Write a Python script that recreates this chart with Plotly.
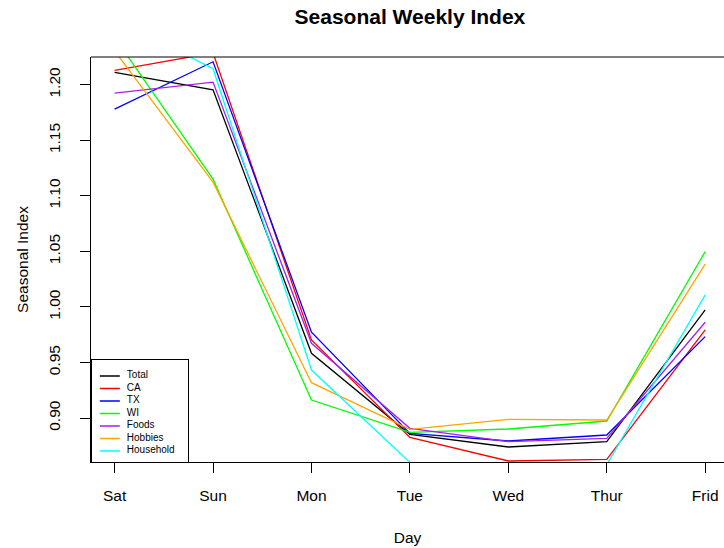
import plotly.graph_objects as go

days = ["Sat", "Sun", "Mon", "Tue", "Wed", "Thur", "Frid"]
series_names = ["Total", "CA", "TX", "WI", "Foods", "Hobbies", "Household"]
total = [1.2111, 1.1955, 0.9583, 0.8853, 0.8739, 0.8787, 0.9973]
ca = [1.2129, 1.2287, 0.9703, 0.8826, 0.8613, 0.8628, 0.9793]
tx = [1.1780, 1.2207, 0.9772, 0.8862, 0.8793, 0.8847, 0.9733]
wi = [1.2426, 1.1150, 0.9162, 0.8871, 0.8901, 0.8973, 1.0498]
foods = [1.1925, 1.2024, 0.9673, 0.8907, 0.8787, 0.8817, 0.9862]
hobbies = [1.2305, 1.1123, 0.9318, 0.8898, 0.8988, 0.8982, 1.0385]
household = [1.2593, 1.2144, 0.9432, 0.8600, 0.8520, 0.8580, 1.0108]
y_ticks = [0.90, 0.95, 1.00, 1.05, 1.10, 1.15, 1.20]

series_values = [total, ca, tx, wi, foods, hobbies, household]
colors = ["#000000", "#FF0000", "#0000FF", "#00FF00", "#A020F0", "#FFA500", "#00FFFF"]

FONT = "Liberation Sans, Arial, Helvetica, sans-serif"

W, H = 724, 548

fig = go.Figure()
for name, vals, col in zip(series_names, series_values, colors):
    fig.add_trace(go.Scatter(x=days, y=vals, mode="lines", name=name,
                             line=dict(color=col, width=1.3), showlegend=False,
                             xaxis="x", yaxis="y"))

# legend box drawn as a small inset subplot
for i, (name, col) in enumerate(zip(series_names, colors)):
    fig.add_trace(go.Scatter(x=[8, 28], y=[i, i], mode="lines",
                             line=dict(color=col, width=1.3), showlegend=False,
                             xaxis="x2", yaxis="y2", hoverinfo="skip"))
fig.add_trace(go.Scatter(x=[35] * len(series_names), y=list(range(len(series_names))),
                         mode="text", text=series_names, textposition="middle right",
                         textfont=dict(family=FONT, size=10, color="#000000"),
                         showlegend=False, xaxis="x2", yaxis="y2", hoverinfo="skip"))

fig.update_layout(
    width=W, height=H, autosize=False,
    margin=dict(l=91.2, r=0, t=57, b=86),
    paper_bgcolor="white", plot_bgcolor="white",
    font=dict(family=FONT, color="#000000", size=15.5),
    title=dict(text="<b>Seasonal Weekly Index</b>", xref="paper", x=0.5038, xanchor="center",
               yref="container", y=1 - 17 / H, yanchor="middle",
               font=dict(family=FONT, size=21, color="#000000")),
    xaxis=dict(range=[-0.24, 6.191], showgrid=False, zeroline=False,
               showline=True, linecolor="#000000", linewidth=1,
               ticks="outside", ticklen=10, tickcolor="#000000", tickwidth=1,
               tickfont=dict(size=15.5), ticklabelstandoff=9,
               title=dict(text="Day", standoff=29, font=dict(size=15.5))),
    yaxis=dict(range=[0.8604, 1.2250], showgrid=False, zeroline=False,
               showline=True, linecolor="#000000", linewidth=1,
               tickmode="array", tickvals=y_ticks, ticktext=[f"{v:.2f}" for v in y_ticks],
               tickangle=-90,
               ticks="outside", ticklen=10, tickcolor="#000000", tickwidth=1,
               tickfont=dict(size=15.5), ticklabelstandoff=14,
               title=dict(text="Seasonal Index", standoff=13, font=dict(size=15.5))),
    xaxis2=dict(domain=[0.0013, 0.153], anchor="y2", range=[0, 96],
                showgrid=False, zeroline=False, showticklabels=False, ticks="",
                showline=True, mirror=True, linecolor="#000000", linewidth=1, fixedrange=True),
    yaxis2=dict(domain=[0, 0.2519], anchor="x2", range=[6.88, -1.28],
                showgrid=False, zeroline=False, showticklabels=False, ticks="",
                showline=True, mirror=True, linecolor="#000000", linewidth=1, fixedrange=True),
    shapes=[dict(type="line", xref="paper", yref="paper", x0=0, x1=1, y0=1, y1=1,
                 line=dict(color="#000000", width=1))],
)

# remove the default page margin so the figure fills the window exactly
fig.write_html("out.html", config={"displayModeBar": False},
               post_script="document.body.style.margin='0px';")
